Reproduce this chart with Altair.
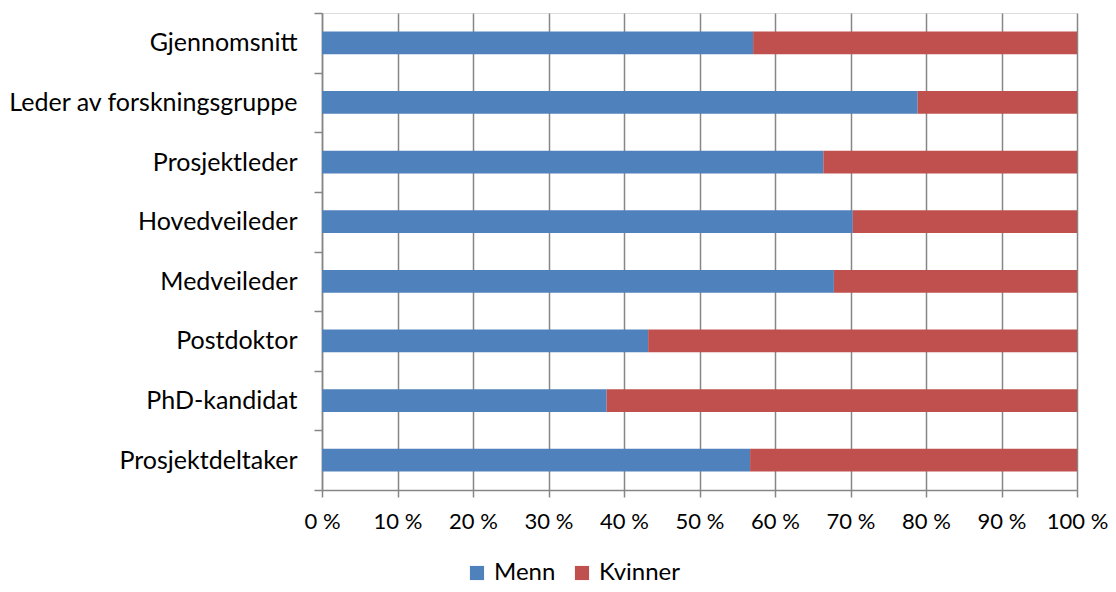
import altair as alt
import pandas as pd

categories = ["Gjennomsnitt", "Leder av forskningsgruppe", "Prosjektleder", "Hovedveileder",
              "Medveileder", "Postdoktor", "PhD-kandidat", "Prosjektdeltaker"]
menn = [57.1, 78.9, 66.4, 70.3, 67.8, 43.2, 37.7, 56.7]
kvinner = [42.9, 21.1, 33.6, 29.7, 32.2, 56.8, 62.3, 43.3]
series = ["Menn", "Kvinner"]
colors = ["#4F81BD", "#C0504D"]

rows = []
for c, m, k in zip(categories, menn, kvinner):
    rows.append({"cat": c, "kjonn": "Menn", "val": m / 100, "ord": 0})
    rows.append({"cat": c, "kjonn": "Kvinner", "val": k / 100, "ord": 1})
df = pd.DataFrame(rows)

FONT = "Lato"
FS = 25

chart = alt.Chart(df).mark_bar(height={"band": 0.38}).encode(
    y=alt.Y("cat:N", sort=categories, title=None,
            scale=alt.Scale(paddingInner=0, paddingOuter=0),
            axis=alt.Axis(tickBand="extent", tickSize=8, tickColor="#868686", tickWidth=1.5,
                          domainColor="#868686", domainWidth=1.5, labelPadding=17,
                          labelFontSize=FS, labelColor="#000000", labelFont=FONT,
                          labelLimit=400, grid=False)),
    x=alt.X("val:Q", stack="zero", title=None,
            scale=alt.Scale(domain=[0, 1], nice=False),
            axis=alt.Axis(values=[i / 10 for i in range(11)], grid=True, gridColor="#868686",
                          gridWidth=1.5, tickSize=7, tickColor="#868686", tickWidth=1.5,
                          domainColor="#868686", domainWidth=1.5, labelPadding=14,
                          labelFontSize=22, labelColor="#000000", labelFont=FONT,
                          labelExpr="round(datum.value*100) + ' %'", labelFlush=False,
                          labelOverlap=False)),
    color=alt.Color("kjonn:N", sort=series,
                    scale=alt.Scale(domain=series, range=colors),
                    legend=alt.Legend(title=None, orient="none", direction="horizontal",
                                      legendX=143, legendY=548, symbolType="square",
                                      symbolSize=200, symbolStrokeWidth=0,
                                      labelFontSize=24, labelFont=FONT, labelColor="#000000",
                                      columnPadding=14, labelOffset=5)),
    order=alt.Order("ord:Q"),
).properties(
    width=755, height=477,
    autosize=alt.AutoSizeParams(type="none"),
    padding={"left": 314, "top": 5, "right": 31, "bottom": 94},
).configure_view(stroke=None).configure(background="white")

chart.save("out.html", embed_options={"renderer": "svg", "actions": False})
